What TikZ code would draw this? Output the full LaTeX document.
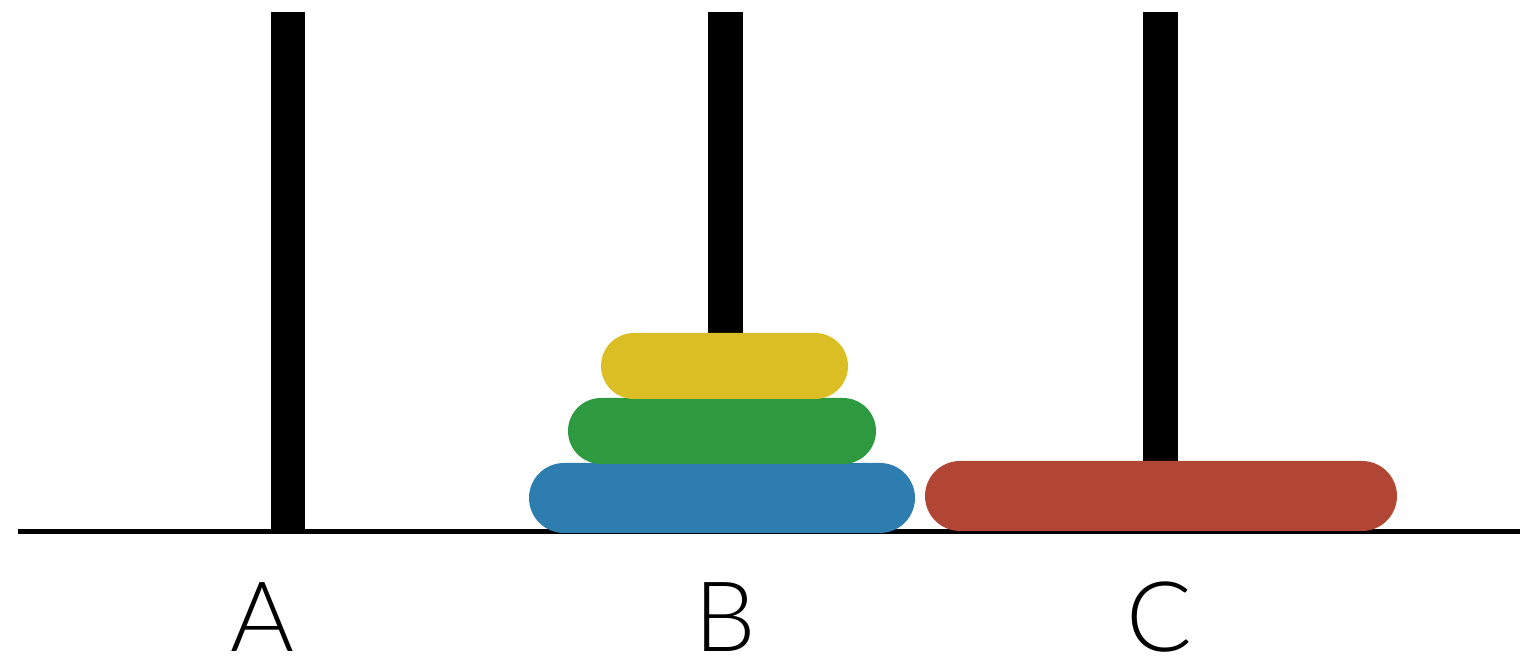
\documentclass[tikz,border=0pt]{standalone}
\usepackage{fontspec}
\setmainfont{TeX Gyre Heros}
\newfontfamily\labfont{Lato Light}
\definecolor{diskyellow}{HTML}{DBBE24}
\definecolor{diskgreen}{HTML}{2E9A40}
\definecolor{diskblue}{HTML}{2E7DB0}
\definecolor{diskred}{HTML}{B04633}
\tikzset{
  peg/.style={fill=black},
  label/.style={anchor=base, inner sep=0pt, text depth=0pt, font=\labfont\fontsize{27.7}{30}\selectfont},
}
\begin{document}
\begin{tikzpicture}[x=0.01cm, y=-0.01cm]
\useasboundingbox (0,0) rectangle (1520,658);
% pegs
\fill[peg] (271,12) rectangle (305,531);
\fill[peg] (708,12) rectangle (743,360);
\fill[peg] (1143,12) rectangle (1178,480);
% base
\fill[black] (18,529) rectangle (1520,534);
% disks
\fill[diskblue, rounded corners=0.35cm] (529,463) rectangle (915,533);
\fill[diskgreen, rounded corners=0.33cm] (568,398) rectangle (876,464);
\fill[diskyellow, rounded corners=0.33cm] (601,333) rectangle (848,399);
\fill[diskred, rounded corners=0.35cm] (925,461) rectangle (1397,531);
% labels
\node[label] (la) at (262,652) {A};
\node[label] (lb) at (725,652) {B};
\node[label] (lc) at (1159,652) {C};
\end{tikzpicture}
\end{document}
